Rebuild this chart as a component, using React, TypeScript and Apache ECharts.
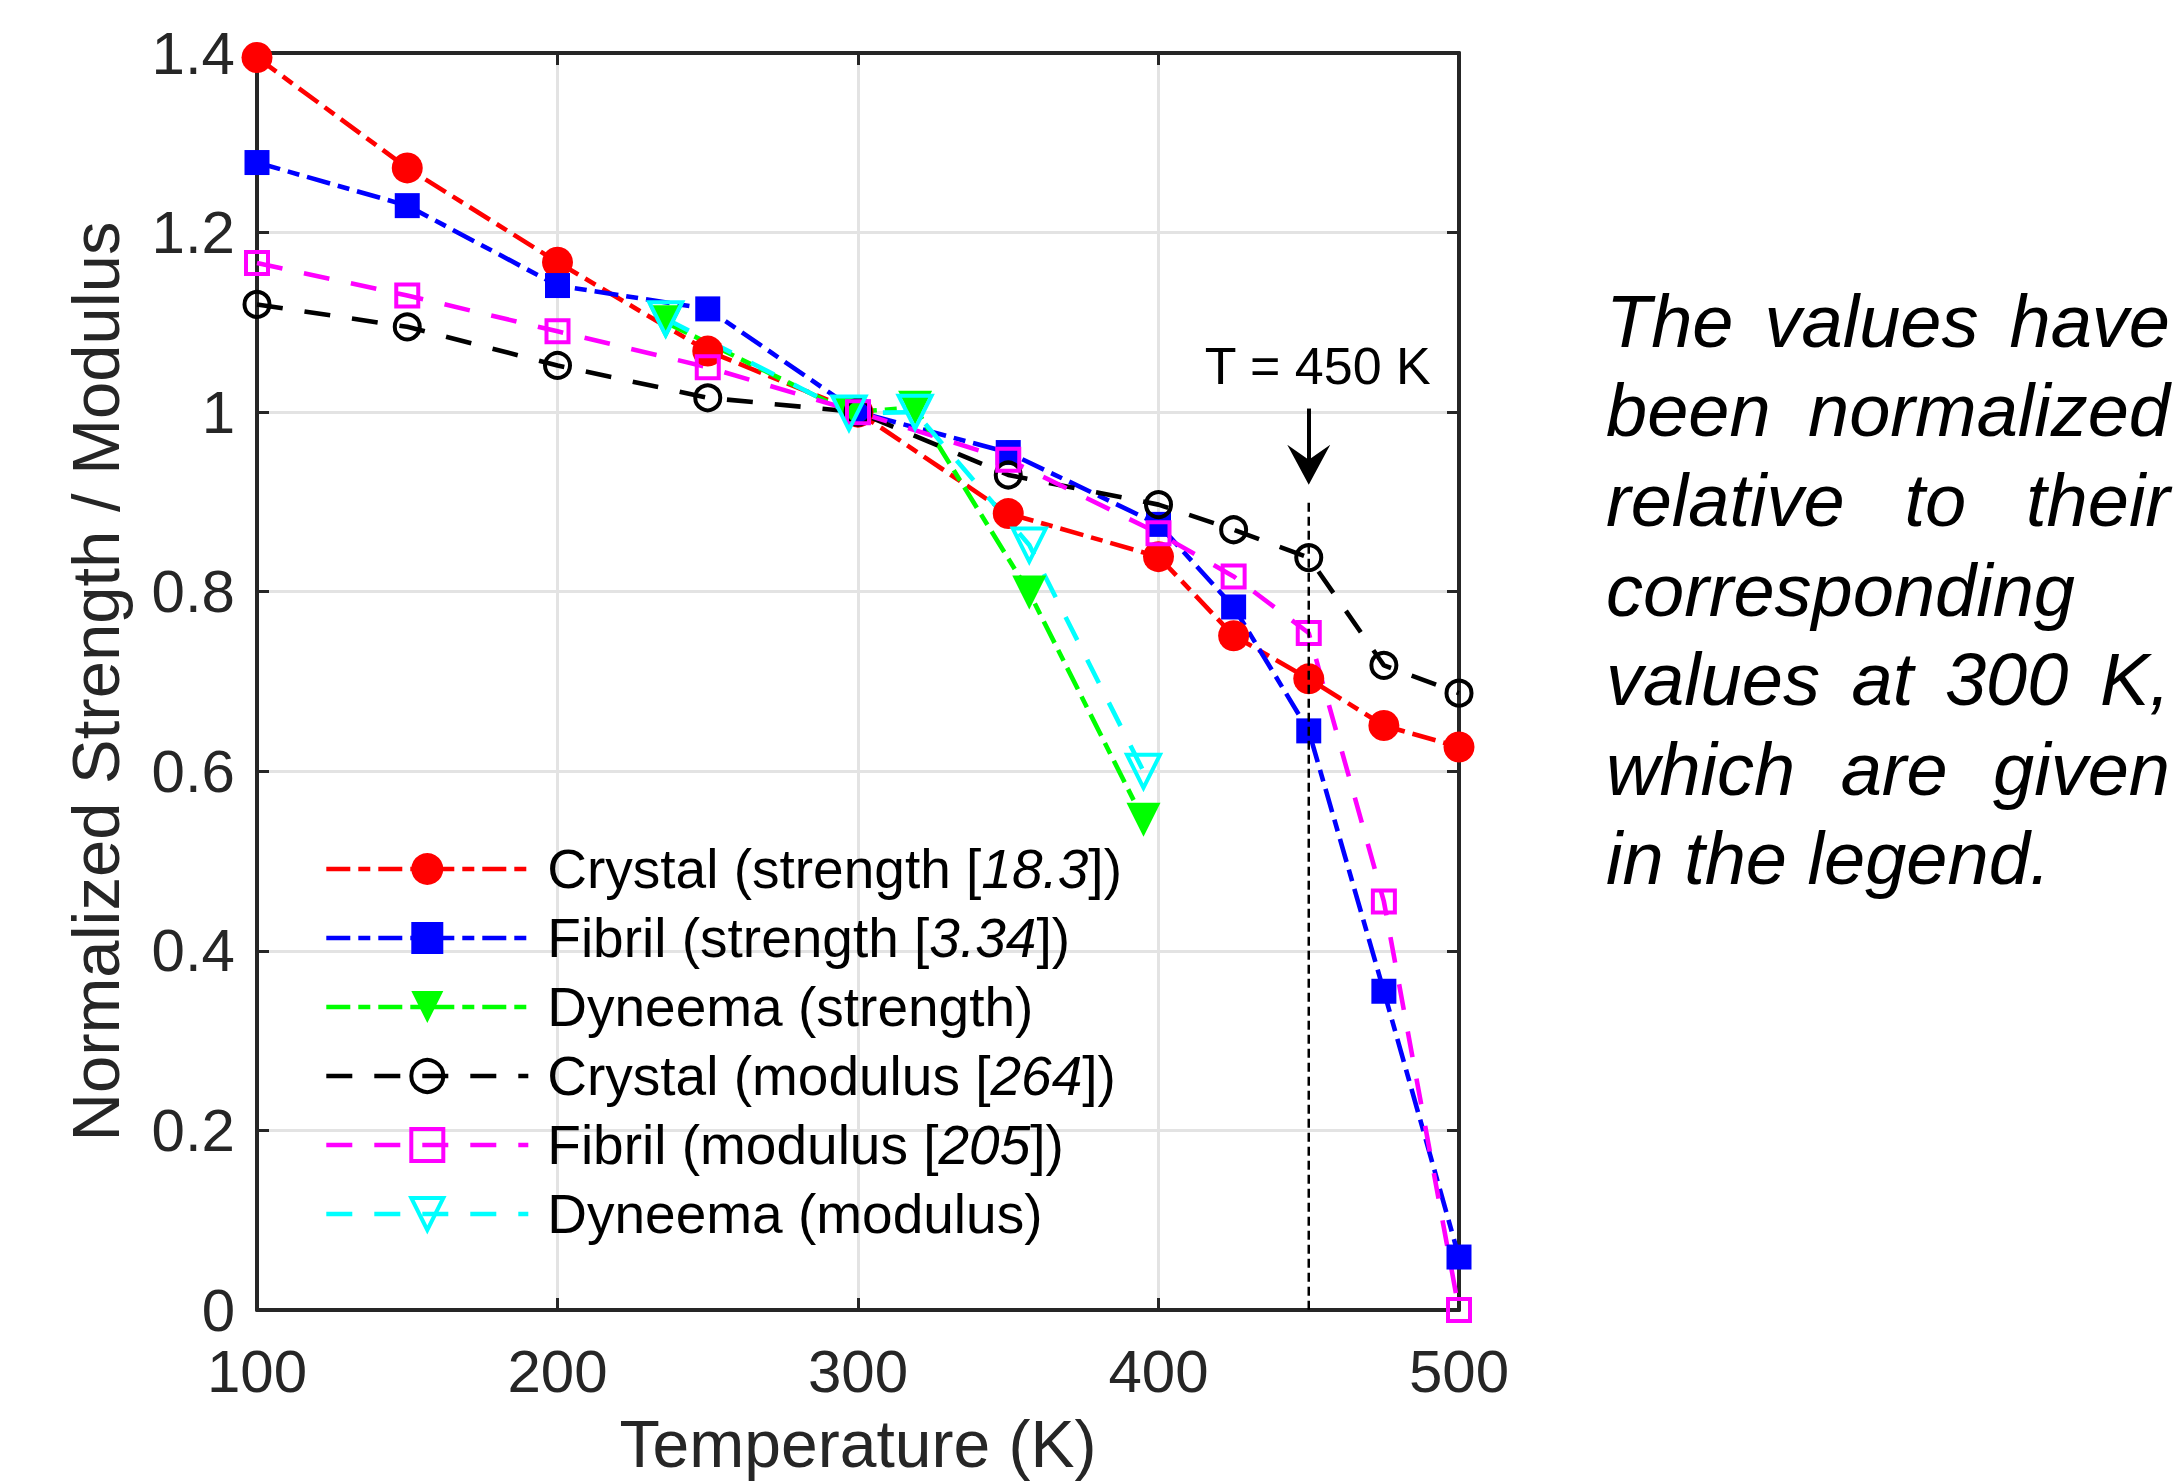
import React, { useEffect, useRef } from 'react';
import * as echarts from 'echarts';

// ---------------- data ----------------
const temperatures = [100, 150, 200, 250, 300, 350, 400, 425, 450, 475, 500];
const crystalStrength = [1.395, 1.272, 1.167, 1.068, 1.0, 0.887, 0.839, 0.751, 0.703, 0.651, 0.627];
const fibrilStrength = [1.278, 1.23, 1.141, 1.115, 1.0, 0.955, 0.875, 0.783, 0.645, 0.355, 0.059];
const crystalModulus = [1.12, 1.095, 1.052, 1.016, 1.0, 0.93, 0.897, 0.869, 0.838, 0.718, 0.687];
const fibrilModulus = [1.166, 1.13, 1.09, 1.05, 1.0, 0.947, 0.865, 0.817, 0.754, 0.455, 0.0];

const dyneemaTemperatures = [236, 297, 319, 357, 395];
const dyneemaStrength = [1.1, 1.0, 1.005, 0.799, 0.546];
const dyneemaModulus = [1.104, 0.999, 1.0, 0.852, 0.6];

const seriesNames = [
  'Crystal (strength [18.3])',
  'Fibril (strength [3.34])',
  'Dyneema (strength)',
  'Crystal (modulus [264])',
  'Fibril (modulus [205])',
  'Dyneema (modulus)',
];
const seriesRefs = ['18.3', '3.34', '', '264', '205', ''];

const xMin = 100;
const xMax = 500;
const xStep = 100;
const yMin = 0;
const yMax = 1.4;
const yStep = 0.2;

const xAxisTitle = 'Temperature (K)';
const yAxisTitle = 'Normalized Strength / Modulus';

const markerTemperature = 450;
const markerLabel = 'T = 450 K';
const markerLineTop = 0.899;
const arrowFrom = 1.004;
const arrowHeadCenter = 0.9413;
const markerLabelPos = [453, 1.051];

const noteLines = [
  ['The', 'values', 'have'],
  ['been', 'normalized'],
  ['relative', 'to', 'their'],
  ['corresponding'],
  ['values', 'at', '300', 'K,'],
  ['which', 'are', 'given'],
  ['in', 'the', 'legend.'],
];
const noteJustify = [true, true, true, false, true, true, false];

// ---------------- styles ----------------
const FONT = '"Liberation Sans", Arial, Helvetica, sans-serif';
const AXIS_COLOR = '#262626';
const DASH_DOT = [24, 8, 12, 8];
const DASHED = [26, 22];
const LINE_W = 4.6;

const seriesStyles = [
  { color: '#ff0000', symbol: 'circle', size: 31, filled: true, dash: DASH_DOT, rotate: 0 },
  { color: '#0000ff', symbol: 'rect', size: 25, filled: true, dash: DASH_DOT, rotate: 0 },
  { color: '#00ff00', symbol: 'triangle', size: 34, filled: true, dash: DASH_DOT, rotate: 180 },
  { color: '#000000', symbol: 'circle', size: 25, filled: false, dash: DASHED, rotate: 0 },
  { color: '#ff00ff', symbol: 'rect', size: 22, filled: false, dash: DASHED, rotate: 0 },
  { color: '#00ffff', symbol: 'triangle', size: 33, filled: false, dash: DASHED, rotate: 180 },
];

const seriesX = [temperatures, temperatures, dyneemaTemperatures, temperatures, temperatures, dyneemaTemperatures];
const seriesY = [crystalStrength, fibrilStrength, dyneemaStrength, crystalModulus, fibrilModulus, dyneemaModulus];

function itemStyleFor(s: any) {
  return s.filled
    ? { color: s.color }
    : { color: 'rgba(255,255,255,0)', borderColor: s.color, borderWidth: 4 };
}

export default function App() {
  const ref = useRef<HTMLDivElement>(null);

  useEffect(() => {
    const chart = echarts.init(ref.current!, null, { renderer: 'svg' });

    const series: any[] = seriesNames.map((name, i) => {
      const s = seriesStyles[i];
      return {
        type: 'line',
        name,
        data: seriesX[i].map((x, j) => [x, seriesY[i][j]]),
        symbol: s.symbol,
        symbolSize: s.size,
        symbolRotate: s.rotate,
        showSymbol: true,
        lineStyle: { color: s.color, width: LINE_W, type: s.dash },
        itemStyle: itemStyleFor(s),
        z: 3,
        silent: true,
      };
    });

    series.push({
      type: 'line',
      name: 'marker450',
      data: [
        [markerTemperature, markerLineTop],
        [markerTemperature, yMin],
      ],
      symbol: 'none',
      lineStyle: { color: '#000', width: 2.5, type: [9, 5] },
      z: 6,
      silent: true,
      markLine: {
        silent: true,
        symbol: ['none', 'none'],
        label: { show: false },
        lineStyle: { color: '#000', width: 4, type: 'solid' },
        data: [[{ coord: [markerTemperature, arrowFrom] }, { coord: [markerTemperature, arrowHeadCenter] }]],
      },
      markPoint: {
        silent: true,
        data: [
          {
            coord: markerLabelPos,
            symbol: 'circle',
            symbolSize: 0,
            label: {
              show: true,
              position: 'inside',
              formatter: markerLabel,
              fontSize: 52,
              fontFamily: FONT,
              color: '#000',
            },
          },
          {
            coord: [markerTemperature, arrowHeadCenter],
            symbol: 'path://M0,0 L21.5,15 L43,0 L21.5,40 Z',
            symbolSize: [43, 40],
            itemStyle: { color: '#000' },
            label: { show: false },
          },
        ],
      },
    });

    // right-hand note, justified by measuring words
    const noteFont = `italic 74px ${FONT}`;
    const canvas = document.createElement('canvas');
    const ctx = canvas.getContext('2d')!;
    ctx.font = noteFont;
    const noteLeft = 1606;
    const noteRight = 2170;
    const baseline0 = 347;
    const lineStep = 89.6;
    const graphics: any[] = [];
    noteLines.forEach((words, li) => {
      const widths = words.map((w) => ctx.measureText(w).width);
      const total = widths.reduce((a, b) => a + b, 0);
      const space = ctx.measureText(' ').width;
      const gap =
        noteJustify[li] && words.length > 1 ? (noteRight - noteLeft - total) / (words.length - 1) : space;
      let x = noteLeft;
      const y = baseline0 + li * lineStep - 0.3465 * 74;
      words.forEach((w, wi) => {
        graphics.push({
          type: 'text',
          x,
          y,
          silent: true,
          style: {
            text: w,
            fill: '#000',
            font: noteFont,
            align: 'left',
            verticalAlign: 'middle',
          },
        });
        x += widths[wi] + gap;
      });
    });

    const legendData = seriesNames.map((name, i) => {
      const s = seriesStyles[i];
      return {
        name,
        itemStyle: itemStyleFor(s),
        lineStyle: { color: s.color, width: LINE_W, type: s.dash },
      };
    });

    const option: any = {
      animation: false,
      backgroundColor: '#ffffff',
      textStyle: { fontFamily: FONT },
      grid: { left: 257, right: 719, top: 53, bottom: 174, containLabel: false },
      legend: {
        orient: 'vertical',
        left: 319,
        top: 834,
        itemWidth: 202,
        itemHeight: 40,
        itemGap: 9,
        selectedMode: false,
        data: legendData,
        formatter: (name: string) => {
          const i = seriesNames.indexOf(name);
          const r = seriesRefs[i];
          return r ? name.replace(r, `{i|${r}}`) : name;
        },
        textStyle: {
          fontFamily: FONT,
          fontSize: 55,
          color: '#000',
          lineHeight: 60,
          padding: [0, 0, 0, 14],
          rich: {
            i: { fontStyle: 'italic', fontFamily: FONT, fontSize: 55, lineHeight: 60, color: '#000' },
          },
        },
      },
      xAxis: [
        {
          type: 'value',
          min: xMin,
          max: xMax,
          interval: xStep,
          position: 'bottom',
          name: xAxisTitle,
          nameLocation: 'middle',
          nameGap: 101,
          nameTextStyle: { fontSize: 66, color: AXIS_COLOR, fontFamily: FONT },
          axisLine: { show: true, onZero: false, lineStyle: { color: AXIS_COLOR, width: 4 } },
          axisTick: { show: true, inside: true, length: 12, lineStyle: { color: AXIS_COLOR, width: 3 } },
          axisLabel: { show: true, margin: 37, fontSize: 60, lineHeight: 48, color: AXIS_COLOR, fontFamily: FONT },
          splitLine: { show: true, lineStyle: { color: '#e3e3e3', width: 3 } },
        },
        {
          type: 'value',
          min: xMin,
          max: xMax,
          interval: xStep,
          position: 'top',
          axisLine: { show: true, onZero: false, lineStyle: { color: AXIS_COLOR, width: 4 } },
          axisTick: { show: true, inside: true, length: 12, lineStyle: { color: AXIS_COLOR, width: 3 } },
          axisLabel: { show: false },
          splitLine: { show: false },
        },
      ],
      yAxis: [
        {
          type: 'value',
          min: yMin,
          max: yMax,
          interval: yStep,
          position: 'left',
          name: yAxisTitle,
          nameLocation: 'middle',
          nameGap: 128,
          nameTextStyle: { fontSize: 67, color: AXIS_COLOR, fontFamily: FONT },
          axisLine: { show: true, onZero: false, lineStyle: { color: AXIS_COLOR, width: 4 } },
          axisTick: { show: true, inside: true, length: 12, lineStyle: { color: AXIS_COLOR, width: 3 } },
          axisLabel: { show: true, margin: 22, fontSize: 60, lineHeight: 48, color: AXIS_COLOR, fontFamily: FONT },
          splitLine: { show: true, lineStyle: { color: '#e3e3e3', width: 3 } },
        },
        {
          type: 'value',
          min: yMin,
          max: yMax,
          interval: yStep,
          position: 'right',
          axisLine: { show: true, onZero: false, lineStyle: { color: AXIS_COLOR, width: 4 } },
          axisTick: { show: true, inside: true, length: 12, lineStyle: { color: AXIS_COLOR, width: 3 } },
          axisLabel: { show: false },
          splitLine: { show: false },
        },
      ],
      series,
      graphic: { elements: graphics },
    };

    chart.setOption(option);
    return () => chart.dispose();
  }, []);

  return (
    <div
      ref={ref}
      style={{ position: 'absolute', left: 0, top: 0, width: 2178, height: 1484, background: '#fff' }}
    />
  );
}
